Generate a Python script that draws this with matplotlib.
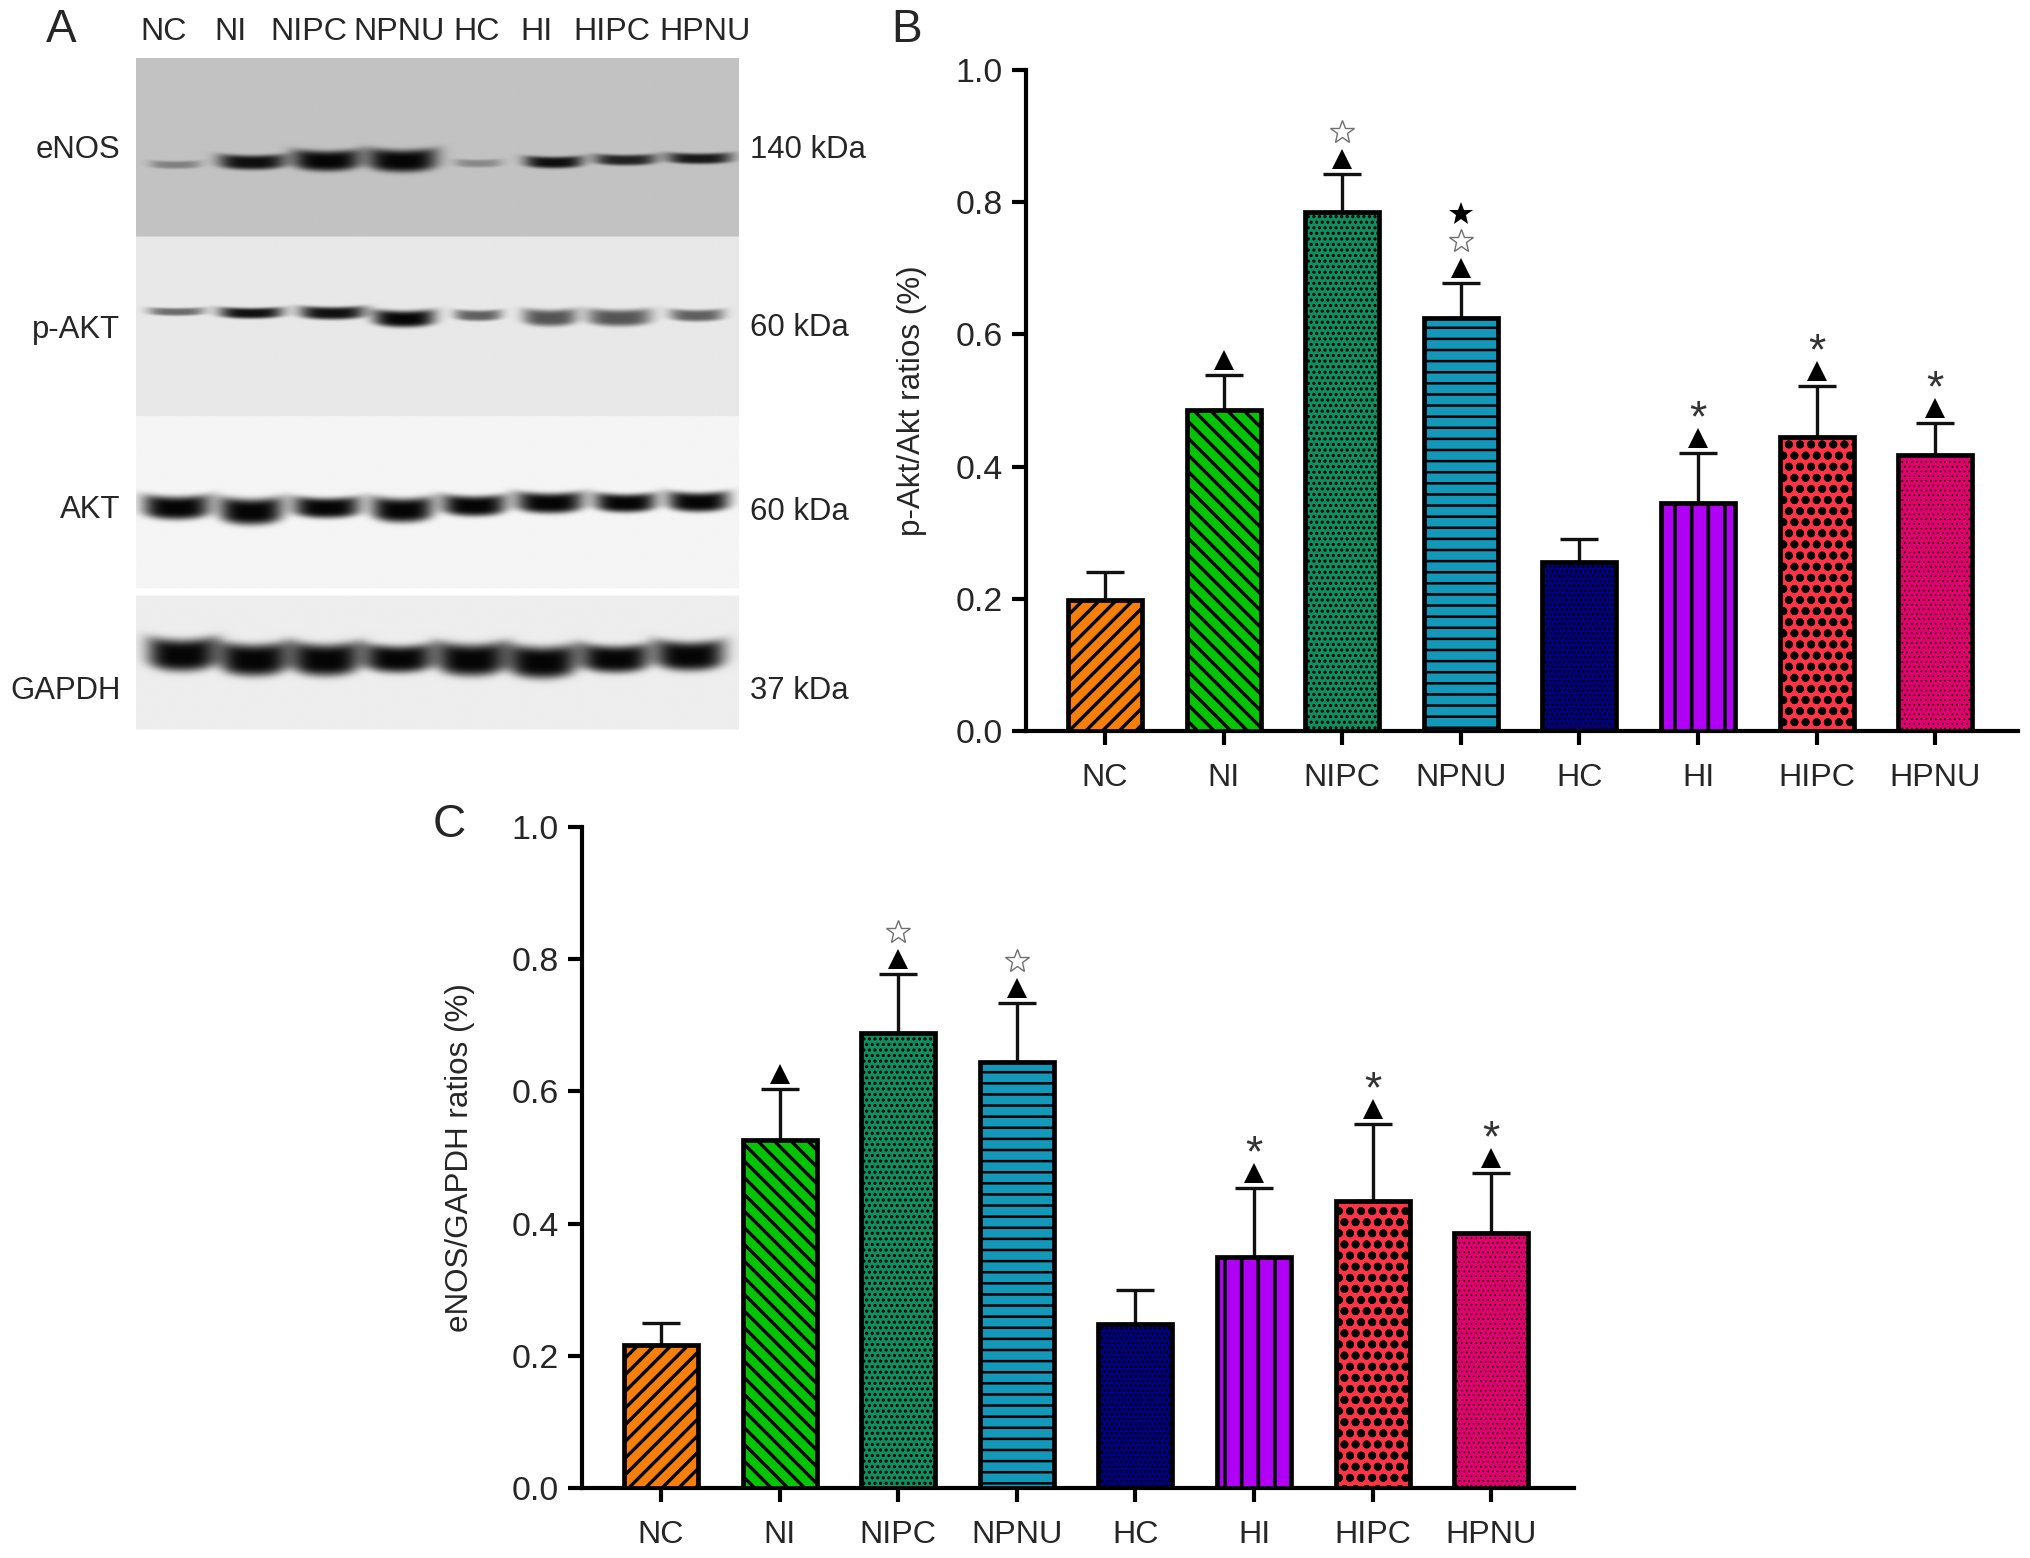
import matplotlib
matplotlib.use('Agg')
import matplotlib.pyplot as plt
import numpy as np

plt.rcParams['font.family'] = ['Liberation Sans', 'DejaVu Sans']

W, H = 2031, 1558
DPI = 200
TEXT = '#262626'

groups = ['NC', 'NI', 'NIPC', 'NPNU', 'HC', 'HI', 'HIPC', 'HPNU']

# bar heights and upper whisker ends
akt_mean = [0.198, 0.485, 0.785, 0.625, 0.255, 0.345, 0.445, 0.418]
akt_top = [0.241, 0.538, 0.843, 0.678, 0.291, 0.421, 0.522, 0.466]
enos_mean = [0.216, 0.526, 0.688, 0.645, 0.248, 0.350, 0.434, 0.386]
enos_top = [0.250, 0.603, 0.778, 0.733, 0.300, 0.454, 0.551, 0.476]

# stacked symbols: ^ triangle, o open star, S filled star, * asterisk
akt_marks = ['', '^', '^o', '^oS', '', '^*', '^*', '^*']
enos_marks = ['', '^', '^o', '^o', '', '^*', '^*', '^*']

colors = ['#f57f0a', '#05c305', '#0f8f62', '#1498ba', '#00008f', '#b000f5', '#ff3344', '#e2006e']
hatches = ['////', '\\\\\\\\', '......', '---', '.......', '||', 'ooo', '.......']
hatch_lw = [1.2, 1.2, 0.75, 0.9, 0.75, 1.3, 1.25, 0.3]

# blot bands, read in crop pixels: lane x, half width, y, half thickness, darkness
enos_x = [310, 447, 580, 715, 850, 985, 1113, 1245]
enos_w = [45, 60, 60, 62, 42, 52, 55, 58]
enos_y = [345, 340, 337, 337, 342, 340, 335, 332]
enos_t = [8, 15, 21, 23, 8, 12, 11, 11]
enos_d = [.35, .95, 1, 1, .3, .95, .85, .9]
pakt_x = [312, 445, 590, 718, 850, 978, 1102, 1240]
pakt_w = [50, 57, 58, 55, 42, 48, 57, 48]
pakt_y = [652, 655, 655, 667, 660, 665, 665, 660]
pakt_t = [8, 11, 13, 17, 11, 17, 17, 12]
pakt_d = [.55, .95, .95, 1, .6, .65, .65, .6]
akt_x = [312, 445, 580, 715, 843, 978, 1113, 1243]
akt_w = [60, 57, 60, 55, 57, 60, 55, 55]
akt_y = [1062, 1070, 1062, 1067, 1058, 1052, 1052, 1050]
akt_t = [24, 27, 21, 25, 21, 21, 19, 20]
akt_d = [1, 1, 1, 1, 1, 1, 1, 1]
gapdh_x = [322, 450, 578, 708, 838, 965, 1095, 1228]
gapdh_w = [62, 62, 62, 62, 62, 62, 62, 62]
gapdh_y = [1370, 1380, 1380, 1378, 1380, 1385, 1378, 1372]
gapdh_t = [33, 33, 33, 28, 33, 33, 28, 30]
gapdh_d = [1, 1, 1, 1, 1, 1, 1, 1]

panel_edges = [(122, 495), (495, 870), (870, 1230), (1245, 1525)]
panel_grey = [0.76, 0.91, 0.96, 0.93]
panel_bands = [
    (enos_x, enos_w, enos_y, enos_t, enos_d),
    (pakt_x, pakt_w, pakt_y, pakt_t, pakt_d),
    (akt_x, akt_w, akt_y, akt_t, akt_d),
    (gapdh_x, gapdh_w, gapdh_y, gapdh_t, gapdh_d),
]

blot_names = ['eNOS', 'p-AKT', 'AKT', 'GAPDH']
blot_name_y = [113, 252, 391, 531]
blot_sizes = ['140 kDa', '60 kDa', '60 kDa', '37 kDa']
blot_size_y = [113, 251, 393, 531]
lane_label_x = [126, 178, 238, 308, 368, 414, 472, 544]

fig = plt.figure(figsize=(W / DPI, H / DPI), dpi=DPI)


def px_axes(left, top, right, bottom):
    return fig.add_axes([left / W, 1 - bottom / H, (right - left) / W, (bottom - top) / H])


def label(x, y, s, size=11.6, ha='center'):
    fig.text(x * 1.2958 / W, 1 - (y + 2.5) * 1.2958 / H, s, fontsize=size, ha=ha, va='center', color=TEXT)


# panel A
xs, ys = np.meshgrid(np.arange(240, 1316), np.arange(122, 1526))
blot = np.ones(xs.shape)
for (y0, y1), grey, bands in zip(panel_edges, panel_grey, panel_bands):
    part = np.full(xs.shape, grey)
    for bx, bw, by, bt, bd in zip(*bands):
        across = (xs - bx) / bw
        # bands sag a little in the middle, so the ends ride higher
        down = (ys - by + 0.3 * bt * across ** 2) / bt
        shape = np.exp(-across ** 4 - down ** 4)
        part -= bd * (grey - 0.02) * shape
    inside = (ys >= y0) & (ys < y1)
    blot[inside] = part[inside]

ax_blot = px_axes(136, 58, 739, 730)
ax_blot.imshow(blot, cmap='gray', vmin=0, vmax=1, aspect='auto', extent=(240, 1316, 1526, 122))
ax_blot.axis('off')

for x, name in zip(lane_label_x, groups):
    label(x, 22, name)
for y, name in zip(blot_name_y, blot_names):
    label(93, y, name, size=11.2, ha='right')
for y, name in zip(blot_size_y, blot_sizes):
    label(579, y, name, size=11.2, ha='left')


def draw_bars(ax, means, tops, marks, ylabel, labelpad):
    pos = np.arange(len(groups))
    yerr = [np.zeros(len(means)), np.array(tops) - np.array(means)]
    ax.errorbar(pos, means, yerr=yerr, fmt='none', ecolor='#111111', elinewidth=1.2,
                capsize=7, capthick=1.2, zorder=2)
    bars = ax.bar(pos, means, width=0.625, color=colors, edgecolor='black', linewidth=1.7, zorder=3)
    for bar, hatch, lw in zip(bars, hatches, hatch_lw):
        bar.set_hatch(hatch)
        bar.set_hatch_linewidth(lw)
    # symbols sit at fixed pixel steps above the cap, one data unit is 660 px
    for x, top, stack in zip(pos, tops, marks):
        for i, m in enumerate(stack):
            y = top + (15 + 27 * i) / 660
            if m == '^':
                ax.plot(x, y, marker='^', ms=7.5, mfc='black', mec='black', mew=0, zorder=4)
            elif m == 'o':
                ax.plot(x, y, marker='*', ms=9, mfc='white', mec='#707070', mew=0.5, zorder=4)
            elif m == 'S':
                ax.plot(x, y, marker='*', ms=9, mfc='black', mec='black', mew=0, zorder=4)
            else:
                ax.text(x, y - 9 / 660, '*', fontsize=16, ha='center', va='center', color='#333333', zorder=4)
    ax.set_xlim(-0.666, 7.698)
    ax.set_ylim(0, 1)
    ax.set_xticks(pos, groups)
    ax.set_yticks(np.arange(0, 1.01, 0.2))
    ax.set_yticklabels(['0.0', '0.2', '0.4', '0.6', '0.8', '1.0'])
    ax.set_ylabel(ylabel, fontsize=11.3, color=TEXT, labelpad=labelpad)
    ax.tick_params(axis='both', width=1.5, length=5, labelcolor=TEXT)
    ax.tick_params(axis='x', labelsize=11.6, pad=6.5)
    ax.tick_params(axis='y', labelsize=12.2, pad=3.5)
    ax.spines['top'].set_visible(False)
    ax.spines['right'].set_visible(False)
    ax.spines['left'].set_linewidth(1.5)
    ax.spines['bottom'].set_linewidth(1.5)
    ax.patch.set_visible(False)


ax_b = px_axes(1026, 70, 2018, 731)
draw_bars(ax_b, akt_mean, akt_top, akt_marks, 'p-Akt/Akt ratios (%)', 10)
ax_c = px_axes(582, 827, 1574, 1488)
draw_bars(ax_c, enos_mean, enos_top, enos_marks, 'eNOS/GAPDH ratios (%)', 13)

label(47, 21, 'A', size=16.5)
label(700, 21, 'B', size=16.5)
label(347, 634, 'C', size=16.5)

fig.savefig('out.png', dpi=DPI)
